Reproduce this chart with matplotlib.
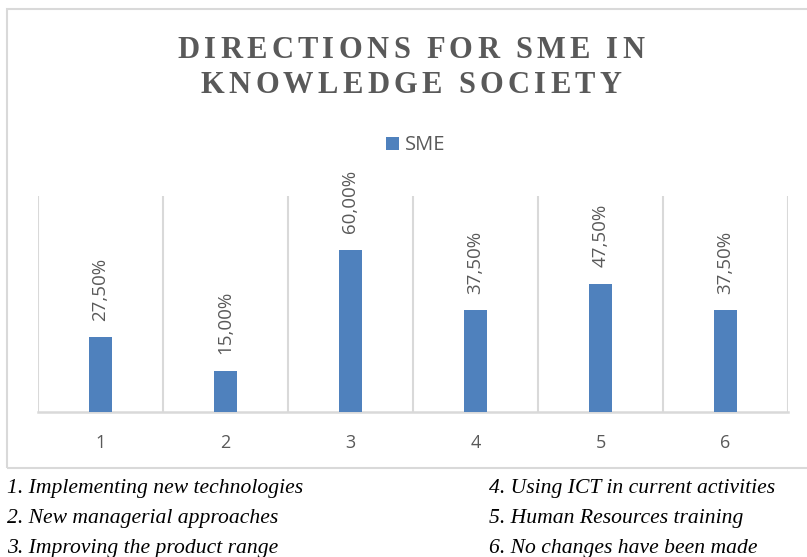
import matplotlib
matplotlib.use("Agg")
import matplotlib.pyplot as plt
from matplotlib.font_manager import FontProperties
from matplotlib.patches import Rectangle

# ---- data ----
categories = ["1", "2", "3", "4", "5", "6"]
values = [0.275, 0.15, 0.60, 0.375, 0.475, 0.375]
value_labels = ["27,50%", "15,00%", "60,00%", "37,50%", "47,50%", "37,50%"]
series_name = "SME"
title_lines = ["DIRECTIONS FOR SME IN", "KNOWLEDGE SOCIETY"]
notes_left = ["1. Implementing new technologies",
              "2. New managerial approaches",
              "3. Improving the product range"]
notes_right = ["4. Using ICT in current activities",
               "5. Human Resources training",
               "6. No changes have been made"]

W, H = 807, 557
DPI = 100
BAR = "#4f81bd"
GRAY_TXT = "#595959"
GRID = "#d9d9d9"
SANS = ["Open Sans", "DejaVu Sans"]

fig = plt.figure(figsize=(W / DPI, H / DPI), dpi=DPI)
fig.patch.set_facecolor("white")


def fx(x):
    return x / W


def fy(y):
    return 1 - y / H


# chart area border
fig.patches.append(Rectangle((fx(7), fy(468)), fx(830) - fx(7), fy(9) - fy(468),
                             transform=fig.transFigure, fill=False,
                             edgecolor=GRID, linewidth=1.5, zorder=0))

# plot area
ax = fig.add_axes([fx(38), fy(411.5), fx(788) - fx(38), fy(196) - fy(411.5)])
x = list(range(1, len(categories) + 1))
bars = ax.bar(x, values, width=0.185, color=BAR, zorder=3)
ax.set_xlim(0.5, len(categories) + 0.5)
ax.set_ylim(0, 0.8)
ax.set_yticks([])
ax.set_xticks(x)
ax.set_xticklabels(categories, fontsize=13, color=GRAY_TXT, family=SANS)
ax.set_xticks([i + 0.5 for i in range(0, len(categories) + 1)], minor=True)
ax.tick_params(axis="x", which="both", length=0, pad=16)
ax.grid(axis="x", which="minor", color=GRID, linewidth=1.5, zorder=0)
ax.grid(axis="x", which="major", visible=False)
for s in ["top", "left", "right"]:
    ax.spines[s].set_visible(False)
ax.spines["bottom"].set_color(GRID)
ax.spines["bottom"].set_linewidth(1.8)
ax.set_facecolor("none")

for xi, v, lab in zip(x, values, value_labels):
    ax.annotate(lab, (xi, v), xytext=(0, 12), textcoords="offset points",
                rotation=90, ha="center", va="bottom", fontsize=13.5,
                color=GRAY_TXT, family=SANS)

# legend
fig.patches.append(Rectangle((fx(386), fy(150)), fx(399) - fx(386), fy(137) - fy(150),
                             transform=fig.transFigure, facecolor=BAR,
                             edgecolor="none"))
fig.text(fx(405), fy(150.5), series_name, fontsize=14.5, color=GRAY_TXT,
         family=SANS, ha="left", va="baseline")

# title with letter spacing
fig.canvas.draw()
renderer = fig.canvas.get_renderer()
tfp = FontProperties(family=["Liberation Serif", "DejaVu Serif"], weight="bold", size=22)


def char_w(c, fp):
    a = renderer.get_text_width_height_descent("|" + c + "|", fp, ismath=False)[0]
    b = renderer.get_text_width_height_descent("||", fp, ismath=False)[0]
    return a - b


def spaced(s, cx, base_y, fp, spacing, color):
    ws = [char_w(c, fp) for c in s]
    total = sum(ws) + spacing * (len(s) - 1)
    xx = cx - total / 2
    for c, w in zip(s, ws):
        fig.text(fx(xx), fy(base_y), c, fontproperties=fp, color=color,
                 ha="left", va="baseline")
        xx += w + spacing


spaced(title_lines[0], 411, 57.5, tfp, 4.3, GRAY_TXT)
spaced(title_lines[1], 411, 93, tfp, 4.3, GRAY_TXT)

# notes below the chart
nfp = FontProperties(family=["Liberation Serif", "DejaVu Serif"], style="italic", size=15.6)
for i, (l, r) in enumerate(zip(notes_left, notes_right)):
    yb = 493 + i * 30
    fig.text(fx(7), fy(yb), l, fontproperties=nfp, color="black", ha="left", va="baseline")
    fig.text(fx(489), fy(yb), r, fontproperties=nfp, color="black", ha="left", va="baseline")

fig.savefig("out.png", dpi=DPI, facecolor="white")
